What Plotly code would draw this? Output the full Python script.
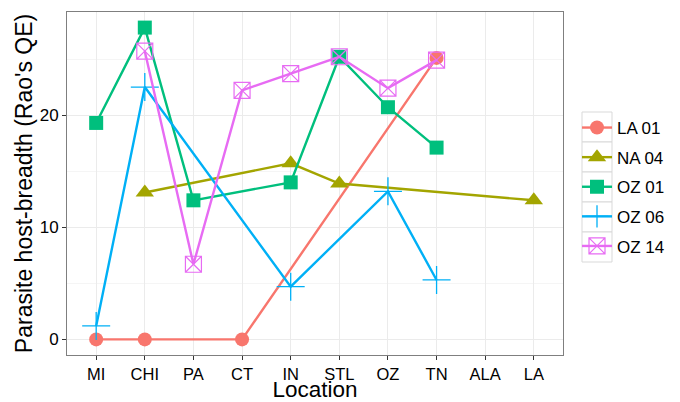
import plotly.graph_objects as go

locations = ["MI", "CHI", "PA", "CT", "IN", "STL", "OZ", "TN", "ALA", "LA"]

la01_x = ["MI", "CHI", "CT", "TN"]
la01_y = [0, 0, 0, 25.1]
na04_x = ["CHI", "IN", "STL", "LA"]
na04_y = [13.1, 15.7, 13.9, 12.4]
oz01_x = ["MI", "CHI", "PA", "IN", "STL", "OZ", "TN"]
oz01_y = [19.3, 27.8, 12.4, 14.0, 25.2, 20.7, 17.1]
oz06_x = ["MI", "CHI", "IN", "OZ", "TN"]
oz06_y = [1.2, 22.5, 4.7, 13.2, 5.3]
oz14_x = ["CHI", "PA", "CT", "IN", "STL", "OZ", "TN"]
oz14_y = [25.7, 6.7, 22.2, 23.7, 25.2, 22.4, 24.9]

series = [
    ("LA 01", la01_x, la01_y, "#F8766D", "circle", 14, 0),
    ("NA 04", na04_x, na04_y, "#A3A500", "triangle-up", 16, 0),
    ("OZ 01", oz01_x, oz01_y, "#00BF7D", "square", 14, 0),
    ("OZ 06", oz06_x, oz06_y, "#00B0F6", "cross-thin-open", 20, 1.3),
    ("OZ 14", oz14_x, oz14_y, "#E76BF3", "square-x-open", 16, 1.2),
]

L, R, T, B = 67, 117, 12, 47
W, H = 680, 402
pw, ph = W - L - R, H - T - B

fig = go.Figure()
for i, (name, xs, ys, col, sym, sz, lw) in enumerate(series):
    fig.add_trace(go.Scatter(
        x=xs, y=ys, name=name, mode="lines+markers", legendgroup=name,
        line=dict(color=col, width=2.4),
        marker=dict(symbol=sym, size=sz, color=col,
                    line=dict(color=col, width=lw)),
    ))

# legend key boxes (ggplot style)
for i in range(len(series)):
    top = 112 + 30 * i
    fig.add_shape(type="rect", xref="paper", yref="paper",
                  x0=(582 - L) / pw, x1=(612 - L) / pw,
                  y0=(H - B - top) / ph, y1=(H - B - top - 30) / ph,
                  line=dict(color="#D9D9D9", width=1), fillcolor="white",
                  layer="below")

fig.update_layout(
    width=W, height=H,
    margin=dict(l=L, r=R, t=T, b=B, autoexpand=False),
    paper_bgcolor="white", plot_bgcolor="white",
    font=dict(family="Liberation Sans, Arial, sans-serif", color="black"),
    showlegend=True,
    legend=dict(x=(577 - L) / pw, y=(H - B - 110) / ph, xanchor="left", yanchor="top",
                font=dict(size=17), borderwidth=0, bgcolor="rgba(0,0,0,0)",
                itemwidth=30, tracegroupgap=4.5),
    xaxis=dict(
        type="category", categoryorder="array", categoryarray=locations,
        range=[-0.6, 9.6], automargin=False,
        title=dict(text="Location", font=dict(size=22.5), standoff=4),
        tickfont=dict(size=16.5, color="black"),
        showgrid=True, gridcolor="#EBEBEB", gridwidth=1,
        ticks="outside", ticklen=4, tickcolor="#333333",
        showline=True, linecolor="#7F7F7F", mirror=True, zeroline=False,
    ),
    yaxis=dict(
        range=[-1.39, 29.19], automargin=False,
        tickvals=[0, 10, 20],
        title=dict(text="Parasite host-breadth (Rao's QE)", font=dict(size=23), standoff=0),
        tickfont=dict(size=17, color="black"),
        showgrid=True, gridcolor="#EBEBEB", gridwidth=1,
        minor=dict(tickvals=[5, 15, 25], showgrid=True, gridcolor="#F5F5F5", ticks=""),
        ticks="outside", ticklen=4, tickcolor="#333333",
        showline=True, linecolor="#7F7F7F", mirror=True, zeroline=False,
    ),
)

fig.write_html("out.html", config={"displayModeBar": False},
               post_script="document.body.style.margin='0';document.body.style.overflow='hidden';")
